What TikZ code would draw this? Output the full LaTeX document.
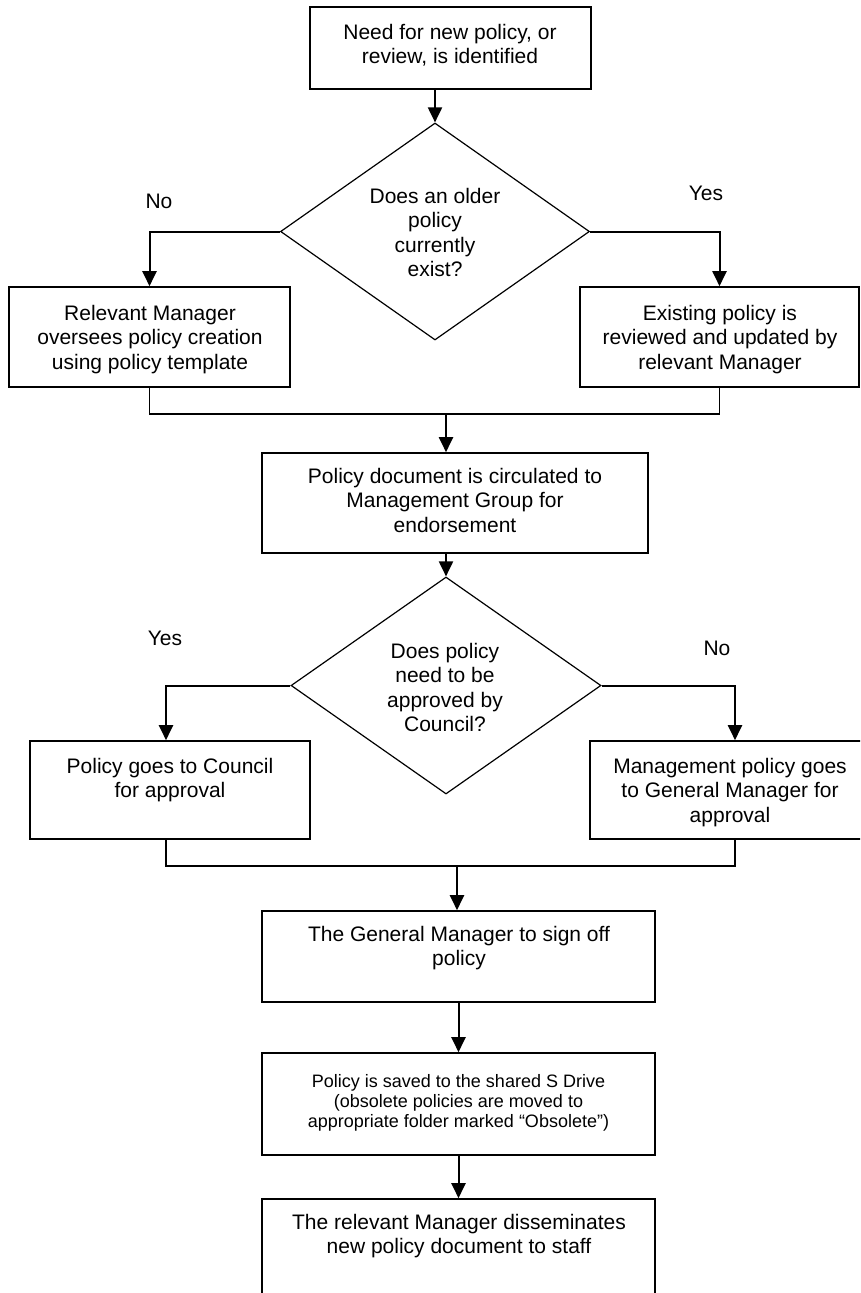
\documentclass[tikz,border=0pt]{standalone}
\usepackage{fontspec}
\setmainfont{Liberation Sans}
\usetikzlibrary{shapes.geometric,arrows.meta}
\begin{document}
\begin{tikzpicture}[x=1pt,y=-1pt,
  box/.style 2 args={draw,line width=1.6pt,inner sep=0pt,minimum width=#1,minimum height=#2},
  decision/.style 2 args={draw,diamond,line width=1.2pt,inner sep=0pt,minimum width=#1,minimum height=#2},
  arr/.style={line width=2pt,-{Triangle[length=15pt,width=14pt]}},
  joinline/.style={line width=1.6pt},
  txt/.style={font=\fontsize{21}{24.5}\selectfont,align=center,inner sep=0pt,anchor=north},
  smalltxt/.style={font=\fontsize{18}{20}\selectfont,align=center,inner sep=0pt,anchor=north}]
\useasboundingbox (0,0) rectangle (860,1293);
\clip (0,0) rectangle (860,1293);
\fill[white] (0,0) rectangle (860,1293);

% shapes
\node[box={281pt}{82pt}] (b1) at (450.5,48) {};
\node[decision={309pt}{217pt}] (d1) at (435,231.5) {};
\node[box={281pt}{100pt}] (b2l) at (149.5,337) {};
\node[box={279pt}{100pt}] (b2r) at (719.5,337) {};
\node[box={386pt}{100pt}] (b3) at (455,503) {};
\node[decision={310pt}{217pt}] (d2) at (446,685.5) {};
\node[box={280pt}{98pt}] (b4l) at (170,790) {};
\node[box={280pt}{98pt}] (b4r) at (730,790) {};
\node[box={393pt}{91pt}] (b5) at (458.5,956.5) {};
\node[box={393pt}{102pt}] (b6) at (458.5,1104) {};
\node[box={393pt}{121pt}] (b7) at (458.5,1259.5) {};

% texts
\node[txt] (t1) at (450,24) {Need for new policy, or\\review, is identified};
\node[txt] (td1) at (435,188) {Does an older\\policy\\currently\\exist?};
\node[txt] (t2l) at (150,305) {Relevant Manager\\oversees policy creation\\using policy template};
\node[txt] (t2r) at (720,305) {Existing policy is\\reviewed and updated by\\relevant Manager};
\node[txt] (lno1) at (159,194) {No};
\node[txt] (lyes1) at (706,186) {Yes};
\node[txt] (t3) at (455,468) {Policy document is circulated to\\Management Group for\\endorsement};
\node[txt] (td2) at (445,643) {Does policy\\need to be\\approved by\\Council?};
\node[txt] (lyes2) at (165,631) {Yes};
\node[txt] (lno2) at (717,641) {No};
\node[txt] (t4l) at (170,758) {Policy goes to Council\\for approval};
\node[txt] (t4r) at (730,758) {Management policy goes\\to General Manager for\\approval};
\node[txt] (t5) at (459,926) {The General Manager to sign off\\policy};
\node[smalltxt] (t6) at (458.5,1074) {Policy is saved to the shared S Drive\\(obsolete policies are moved to\\appropriate folder marked “Obsolete”)};
\node[txt] (t7) at (459,1214) {The relevant Manager disseminates\\new policy document to staff};

% connectors
\coordinate (m1) at (446,414);
\coordinate (m2) at (457,866);
\draw[arr] (b1.south -| d1.north) -- (d1.north);
\draw[arr] (d1.west) -| (b2l.north);
\draw[arr] (d1.east) -| (b2r.north);
\draw[joinline] (b2l.south) |- (m1) -| (b2r.south);
\draw[arr] (m1) -- (m1 |- b3.north);
\draw[arr] (b3.south -| d2.north) -- (d2.north);
\draw[arr] (d2.west) -| ([xshift=-4pt]b4l.north);
\draw[arr] (d2.east) -| ([xshift=5pt]b4r.north);
\draw[joinline] ([xshift=-4pt]b4l.south) |- (m2) -| ([xshift=5pt]b4r.south);
\draw[arr] (m2) -- (m2 |- b5.north);
\draw[arr] (b5.south) -- (b6.north);
\draw[arr] (b6.south) -- (b7.north);
\end{tikzpicture}
\end{document}
